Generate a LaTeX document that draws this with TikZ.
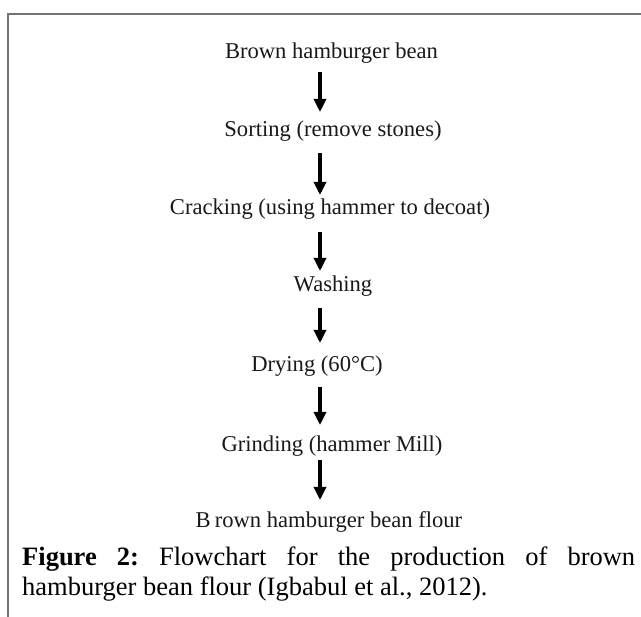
\documentclass[tikz,border=0pt]{standalone}
\usepackage{fontspec}
\setmainfont{Liberation Serif}
\usetikzlibrary{arrows.meta}
\frenchspacing
\begin{document}
\begin{tikzpicture}[x=1pt,y=-1pt,
  stepnode/.style={anchor=base,inner sep=0pt,font=\fontsize{22.6}{27}\selectfont,text=black!90},
  capline/.style={anchor=base west,inner sep=0pt,font=\fontsize{26.5}{30}\selectfont},
  flowarrow/.style={line width=3.2pt,-{Triangle[width=12pt,length=13pt]}},
  framestyle/.style={draw=black!55,line width=2pt}]
\useasboundingbox (0,0) rectangle (641,617);
% frame (top and left)
\draw[framestyle] (641,14) -- (8,14) -- (8,617);
% arrow axis
\coordinate (ax) at (320,0);
% steps
\node[stepnode] (s1) at (331.5,59) {Brown hamburger bean};
\node[stepnode] (s2) at (333,137) {Sorting (remove stones)};
\node[stepnode] (s3) at (330,215) {Cracking (using hammer to decoat)};
\node[stepnode] (s4) at (333,292) {Washing};
\node[stepnode] (s5) at (317,372) {Drying (60°C)};
\node[stepnode] (s6) at (332,452) {Grinding (hammer Mill)};
\node[stepnode] (s7) at (329,528) {B\kern4pt rown hamburger bean flour};
% arrows
\draw[flowarrow] ([yshift=-13pt]s1.base -| ax) -- ([yshift=25pt]s2.base -| ax);
\draw[flowarrow] ([yshift=-16pt]s2.base -| ax) -- ([yshift=20pt]s3.base -| ax);
\draw[flowarrow] ([yshift=-17pt]s3.base -| ax) -- ([yshift=21pt]s4.base -| ax);
\draw[flowarrow] ([yshift=-16pt]s4.base -| ax) -- ([yshift=29pt]s5.base -| ax);
\draw[flowarrow] ([yshift=-15pt]s5.base -| ax) -- ([yshift=27pt]s6.base -| ax);
\draw[flowarrow] ([yshift=-8pt]s6.base -| ax) -- ([yshift=28pt]s7.base -| ax);
% caption
\node[capline] (cap1) at (22,566) {\makebox[613pt][s]{\textbf{Figure 2:} Flowchart for the production of brown}};
\node[capline] (cap2) at (22,596) {hamburger bean flour (Igbabul et al., 2012).};
\end{tikzpicture}
\end{document}
